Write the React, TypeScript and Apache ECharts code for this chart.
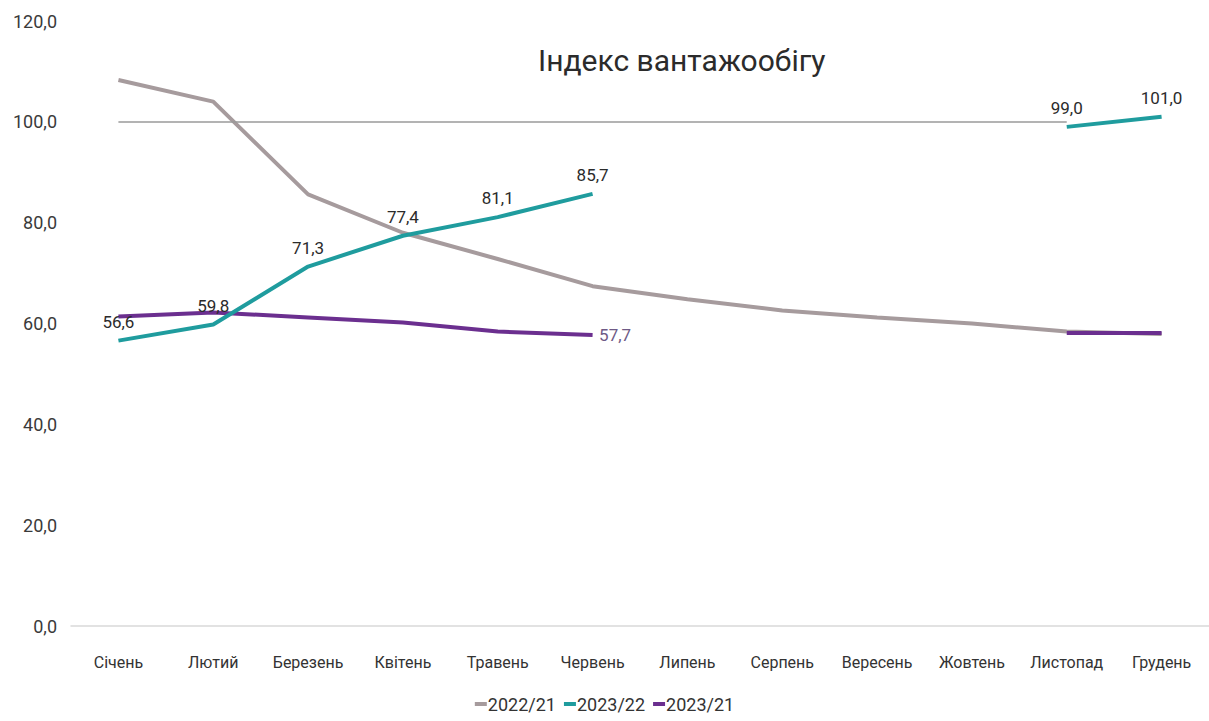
import React, { useEffect, useRef } from "react";
import * as echarts from "echarts";

const categories = ["Січень", "Лютий", "Березень", "Квітень", "Травень", "Червень", "Липень", "Серпень", "Вересень", "Жовтень", "Листопад", "Грудень"];
const s2022_21 = [108.3, 104.0, 85.6, 78.0, 72.8, 67.4, 64.8, 62.6, 61.2, 60.0, 58.4, 57.9];
const s2023_22 = [56.6, 59.8, 71.3, 77.4, 81.1, 85.7, null, null, null, null, 99.0, 101.0];
const s2023_21 = [61.4, 62.2, 61.2, 60.2, 58.4, 57.7, null, null, null, null, 58.1, 58.1];
const yTicks = [0, 20, 40, 60, 80, 100, 120];
const referenceValue = 100;

const FONT = "Roboto, 'Noto Sans', sans-serif";
const fmt = (v: number) => v.toFixed(1).replace(".", ",");

const C_GREY = "#a69b9d";
const C_TEAL = "#1f9c9e";
const C_PURPLE = "#6b2f8f";

export default function App() {
  const ref = useRef<HTMLDivElement>(null);
  useEffect(() => {
    if (!ref.current) return;
    const chart = echarts.init(ref.current, null, { renderer: "svg" });
    chart.setOption({
      animation: false,
      backgroundColor: "#ffffff",
      title: {
        text: "Індекс вантажообігу",
        left: 533,
        top: 40,
        textStyle: { fontFamily: FONT, fontSize: 30, fontWeight: "normal", color: "#2b2b2b" },
      },
      legend: {
        bottom: 3,
        left: "center",
        itemWidth: 12,
        itemHeight: 4,
        itemGap: 8,
        icon: "rect",
        data: [
          { name: "2022/21", itemStyle: { color: C_GREY, opacity: 1 } },
          { name: "2023/22", itemStyle: { color: C_TEAL, opacity: 1 } },
          { name: "2023/21", itemStyle: { color: C_PURPLE, opacity: 1 } },
        ],
        textStyle: { fontFamily: FONT, fontSize: 18, color: "#333", padding: [0, 0, 0, -4] },
      },
      grid: { left: 71, right: -8, top: 21, bottom: 95, containLabel: false },
      xAxis: {
        type: "category",
        data: categories,
        boundaryGap: true,
        axisLine: { show: true, lineStyle: { color: "#d9d9d9", width: 1.5 } },
        axisTick: { show: false },
        axisLabel: { fontFamily: FONT, fontSize: 16, color: "#333", margin: 28, interval: 0 },
      },
      yAxis: {
        type: "value",
        min: yTicks[0],
        max: yTicks[yTicks.length - 1],
        interval: 20,
        axisLine: { show: false },
        axisTick: { show: false },
        splitLine: { show: false },
        axisLabel: {
          fontFamily: FONT,
          fontSize: 18,
          color: "#3a3a3a",
          margin: 14,
          formatter: (v: number) => fmt(v),
        },
      },
      series: [
        {
          name: "2022/21",
          type: "line",
          data: s2022_21,
          symbol: "none",
          z: 2,
          lineStyle: { color: C_GREY, width: 4 },
          itemStyle: { color: C_GREY },
          markLine: {
            silent: true,
            symbol: "none",
            label: { show: false },
            lineStyle: { color: "#9a9a9a", width: 1.5, type: "solid" },
            data: [[{ coord: [categories[0], referenceValue] }, { coord: [categories[10], referenceValue] }]],
          },
        },
        {
          name: "2023/22",
          type: "line",
          data: s2023_22,
          symbol: "circle",
          symbolSize: 1,
          showSymbol: true,
          z: 4,
          lineStyle: { color: C_TEAL, width: 4 },
          itemStyle: { color: "rgba(0,0,0,0)", borderWidth: 0 },
          label: {
            show: true,
            position: "top",
            distance: 10,
            fontFamily: FONT,
            fontSize: 17,
            color: "#2b2b2b",
            formatter: (p: any) => fmt(p.value),
          },
        },
        {
          name: "2023/21",
          type: "line",
          data: s2023_21,
          symbol: "circle",
          symbolSize: 1,
          showSymbol: true,
          z: 3,
          lineStyle: { color: C_PURPLE, width: 4 },
          itemStyle: { color: "rgba(0,0,0,0)", borderWidth: 0 },
          label: {
            show: true,
            position: "right",
            distance: 6,
            fontFamily: FONT,
            fontSize: 17,
            color: "#6e5a86",
            formatter: (p: any) => (p.dataIndex === 5 ? fmt(p.value) : ""),
          },
        },
      ],
    });
    return () => chart.dispose();
  }, []);
  return <div ref={ref} style={{ position: "fixed", left: 0, top: 0, width: 1209, height: 721 }} />;
}
